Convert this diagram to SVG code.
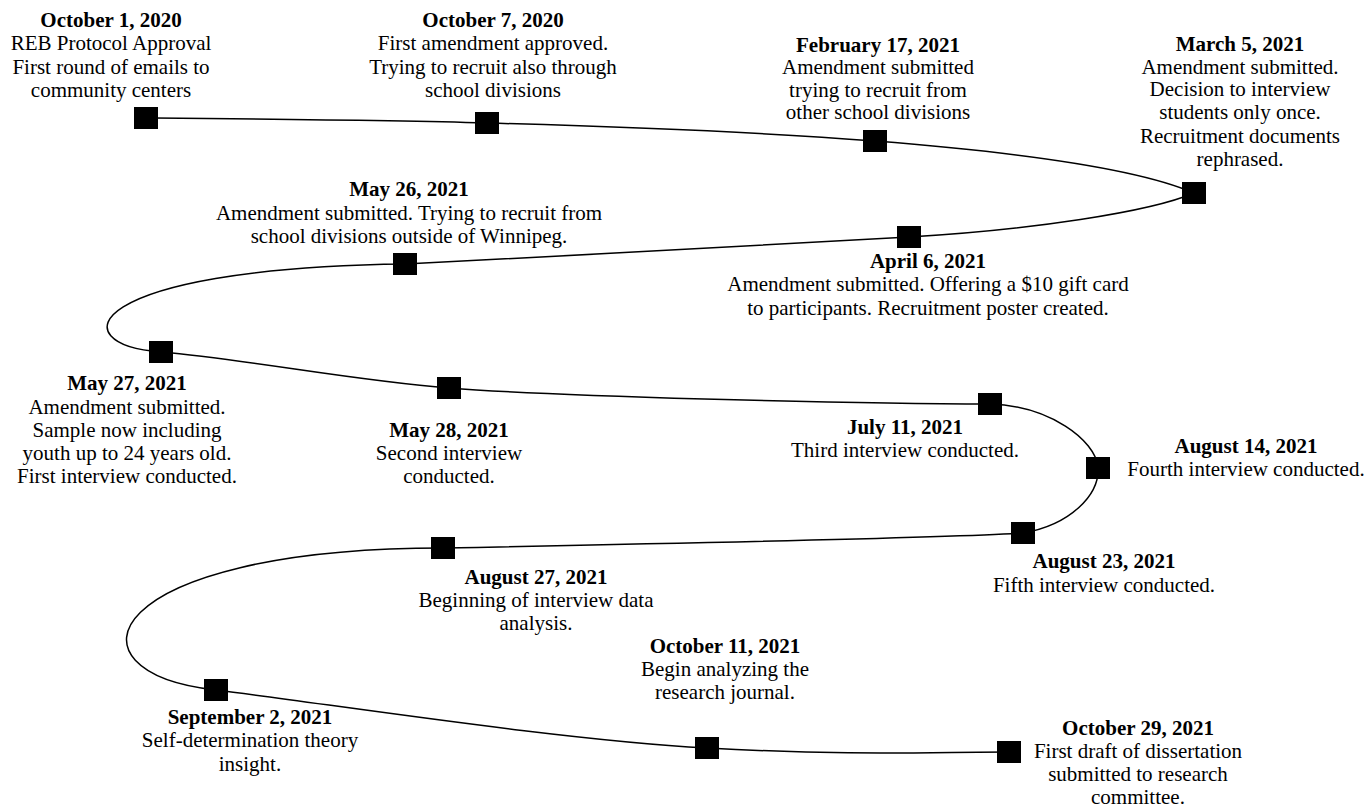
<svg xmlns="http://www.w3.org/2000/svg" width="1367" height="807" viewBox="0 0 1367 807">
<style>
text{font-family:"Liberation Serif","Times New Roman",serif;font-size:21px;fill:#000;text-anchor:middle}
.d{font-weight:bold}
.sq{fill:#000}
.line{fill:none;stroke:#000;stroke-width:1.5}
</style>
<rect width="1367" height="807" fill="#fff"/>
<g id="connectors">
<path class="line" d="M146,118 C260,119 380,120 487,123 C594,126 760,132 875,141 C990,150 1130,165 1194,193 C1150,212 1030,230 909,237 C800,243 550,257 405,264 C80,268 60,345 161,352 C252,360 350,380 449,388 C548,396 850,404 990,404 C1050,406 1095,440 1098,467 C1100,495 1070,525 1023,533 C960,538 600,545 443,548 C100,548 55,672 216,690 C330,704 560,740 707,748 C854,756 930,752 1009,752"/>
</g>
<g id="n1"><rect class="sq" x="134" y="107" width="24" height="22"/><text x="111" y="27" class="d">October 1, 2020</text><text x="111" y="50">REB Protocol Approval</text><text x="111" y="74">First round of emails to</text><text x="111" y="97">community centers</text></g>
<g id="n2"><rect class="sq" x="475" y="112" width="24" height="22"/><text x="493" y="27" class="d">October 7, 2020</text><text x="493" y="50">First amendment approved.</text><text x="493" y="74">Trying to recruit also through</text><text x="493" y="97">school divisions</text></g>
<g id="n3"><rect class="sq" x="863" y="130" width="24" height="22"/><text x="878" y="52" class="d">February 17, 2021</text><text x="878" y="74">Amendment submitted</text><text x="878" y="97">trying to recruit from</text><text x="878" y="119">other school divisions</text></g>
<g id="n4"><rect class="sq" x="1182" y="182" width="24" height="22"/><text x="1240" y="51" class="d">March 5, 2021</text><text x="1240" y="74">Amendment submitted.</text><text x="1240" y="96">Decision to interview</text><text x="1240" y="119">students only once.</text><text x="1240" y="143">Recruitment documents</text><text x="1240" y="166">rephrased.</text></g>
<g id="n5"><rect class="sq" x="897" y="226" width="24" height="22"/><text x="928" y="268" class="d">April 6, 2021</text><text x="928" y="291">Amendment submitted. Offering a $10 gift card</text><text x="928" y="315">to participants. Recruitment poster created.</text></g>
<g id="n6"><rect class="sq" x="393" y="253" width="24" height="22"/><text x="409" y="196" class="d">May 26, 2021</text><text x="409" y="220">Amendment submitted. Trying to recruit from</text><text x="409" y="243">school divisions outside of Winnipeg.</text></g>
<g id="n7"><rect class="sq" x="149" y="341" width="24" height="22"/><text x="127" y="390" class="d">May 27, 2021</text><text x="127" y="414">Amendment submitted.</text><text x="127" y="437">Sample now including</text><text x="127" y="460">youth up to 24 years old.</text><text x="127" y="483">First interview conducted.</text></g>
<g id="n8"><rect class="sq" x="437" y="377" width="24" height="22"/><text x="449" y="437" class="d">May 28, 2021</text><text x="449" y="460">Second interview</text><text x="449" y="483">conducted.</text></g>
<g id="n9"><rect class="sq" x="978" y="393" width="24" height="22"/><text x="905" y="434" class="d">July 11, 2021</text><text x="905" y="457">Third interview conducted.</text></g>
<g id="n10"><rect class="sq" x="1086" y="457" width="24" height="22"/><text x="1246" y="453" class="d">August 14, 2021</text><text x="1246" y="476">Fourth interview conducted.</text></g>
<g id="n11"><rect class="sq" x="1011" y="522" width="24" height="22"/><text x="1104" y="568" class="d">August 23, 2021</text><text x="1104" y="592">Fifth interview conducted.</text></g>
<g id="n12"><rect class="sq" x="431" y="537" width="24" height="22"/><text x="536" y="584" class="d">August 27, 2021</text><text x="536" y="607">Beginning of interview data</text><text x="536" y="630">analysis.</text></g>
<g id="n13"><rect class="sq" x="204" y="679" width="24" height="22"/><text x="250" y="724" class="d">September 2, 2021</text><text x="250" y="747">Self-determination theory</text><text x="250" y="771">insight.</text></g>
<g id="n14"><rect class="sq" x="695" y="737" width="24" height="22"/><text x="725" y="653" class="d">October 11, 2021</text><text x="725" y="676">Begin analyzing the</text><text x="725" y="699">research journal.</text></g>
<g id="n15"><rect class="sq" x="997" y="741" width="24" height="22"/><text x="1138" y="735" class="d">October 29, 2021</text><text x="1138" y="758">First draft of dissertation</text><text x="1138" y="781">submitted to research</text><text x="1138" y="804">committee.</text></g>
</svg>
